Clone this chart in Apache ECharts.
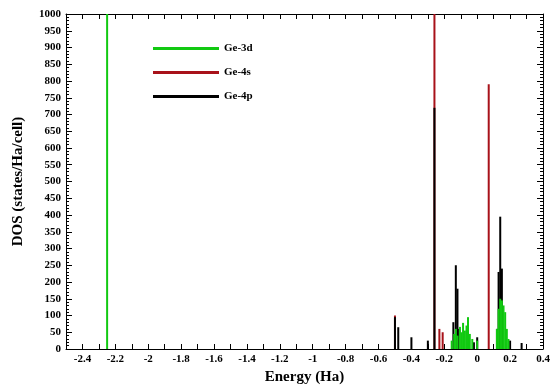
<!DOCTYPE html>
<html>
<head>
<meta charset="utf-8">
<script src="https://cdn.jsdelivr.net/npm/echarts@6/dist/echarts.min.js"></script>
<style>
html, body { margin: 0; padding: 0; background: #fff; }
#main { width: 552px; height: 385px; }
</style>
</head>
<body>
<div id="main"></div>
<script>
// DOS peaks: energy (Ha) and height (states/Ha/cell)
var ge3dEnergy = [-2.25, -0.155, -0.14, -0.13, -0.12, -0.105, -0.095, -0.086, -0.075, -0.065, -0.056, -0.045, -0.03, 0.0, 0.12, 0.13, 0.14, 0.15, 0.16, 0.17, 0.18, 0.19];
var ge3dDos    = [1200, 25, 45, 60, 40, 66, 50, 78, 55, 70, 95, 45, 30, 25, 60, 120, 150, 145, 130, 110, 60, 30];

var ge4sEnergy = [-0.50, -0.26, -0.23, -0.21, 0.07];
var ge4sDos    = [100, 1200, 60, 50, 790];

var ge4pEnergy = [-0.50, -0.48, -0.40, -0.30, -0.26, -0.145, -0.13, -0.12, -0.11, -0.02, 0.0, 0.12, 0.13, 0.14, 0.15, 0.20, 0.27];
var ge4pDos    = [95, 65, 35, 25, 720, 80, 250, 180, 60, 20, 35, 60, 230, 395, 240, 25, 18];

var yTicks = { min: 0, max: 1000, step: 50 };
var xTicks = { min: -2.5, max: 0.4, step: 0.1 };

function pairs(xs, ys) {
	var out = [];
	for (var i = 0; i < xs.length; i++) out.push([xs[i], ys[i]]);
	return out;
}

var font = 'Liberation Serif';
var chart = echarts.init(document.getElementById('main'));

var xBase = {
	type: 'value',
	min: xTicks.min,
	max: xTicks.max,
	interval: xTicks.step,
	axisLine: { onZero: false, lineStyle: { color: '#000', width: 1 } },
	axisTick: { inside: true, length: 5, lineStyle: { color: '#000' } },
	splitLine: { show: false }
};
var yBase = {
	type: 'value',
	min: yTicks.min,
	max: yTicks.max,
	interval: yTicks.step,
	axisLine: { show: true, onZero: false, lineStyle: { color: '#000', width: 1 } },
	axisTick: { inside: true, length: 6, lineStyle: { color: '#000' } },
	minorTick: { show: true, splitNumber: 5, length: 3, lineStyle: { color: '#000' } },
	splitLine: { show: false }
};

var option = {
	animation: false,
	backgroundColor: '#fff',
	grid: { left: 66, right: 9, top: 14, bottom: 36, containLabel: false, outerBoundsMode: 'none' },
	legend: {
		orient: 'vertical',
		left: 148,
		top: 38,
		itemGap: 13,
		itemWidth: 66,
		itemHeight: 3,
		icon: 'rect',
		data: ['Ge-3d', 'Ge-4s', 'Ge-4p'],
		textStyle: { fontFamily: font, fontSize: 11, fontWeight: 'bold', color: '#000', padding: [0, 0, 10, 0] }
	},
	xAxis: [
		Object.assign({}, xBase, {
			position: 'bottom',
			name: 'Energy (Ha)',
			nameLocation: 'middle',
			nameGap: 20,
			nameTextStyle: { fontFamily: font, fontSize: 15, fontWeight: 'bold', color: '#000' },
			axisLabel: {
				fontFamily: font, fontSize: 11, fontWeight: 'bold', color: '#000', margin: 5,
				formatter: function (v) {
					var k = Math.round(v * 10);
					if (k % 2 !== 0) return '';
					return String(k / 10);
				}
			}
		}),
		Object.assign({}, xBase, { position: 'top', axisLabel: { show: false } })
	],
	yAxis: [
		Object.assign({}, yBase, {
			position: 'left',
			name: 'DOS (states/Ha/cell)',
			nameLocation: 'middle',
			nameGap: 40,
			nameTextStyle: { fontFamily: font, fontSize: 15, fontWeight: 'bold', color: '#000' },
			axisLabel: {
				fontFamily: font, fontSize: 11, fontWeight: 'bold', color: '#000', margin: 5,
				formatter: function (v) { return String(v); }
			}
		}),
		Object.assign({}, yBase, { position: 'right', axisLabel: { show: false } })
	],
	series: [
		{
			name: 'Ge-3d', type: 'bar', z: 4,
			barWidth: 2, barGap: '-100%',
			itemStyle: { color: '#11c911' },
			data: pairs(ge3dEnergy, ge3dDos)
		},
		{
			name: 'Ge-4s', type: 'bar', z: 2,
			barWidth: 2, barGap: '-100%',
			itemStyle: { color: '#a8121a' },
			data: pairs(ge4sEnergy, ge4sDos)
		},
		{
			name: 'Ge-4p', type: 'bar', z: 3,
			barWidth: 2, barGap: '-100%',
			itemStyle: { color: '#000' },
			data: pairs(ge4pEnergy, ge4pDos)
		}
	]
};
chart.setOption(option);
</script>
</body>
</html>
